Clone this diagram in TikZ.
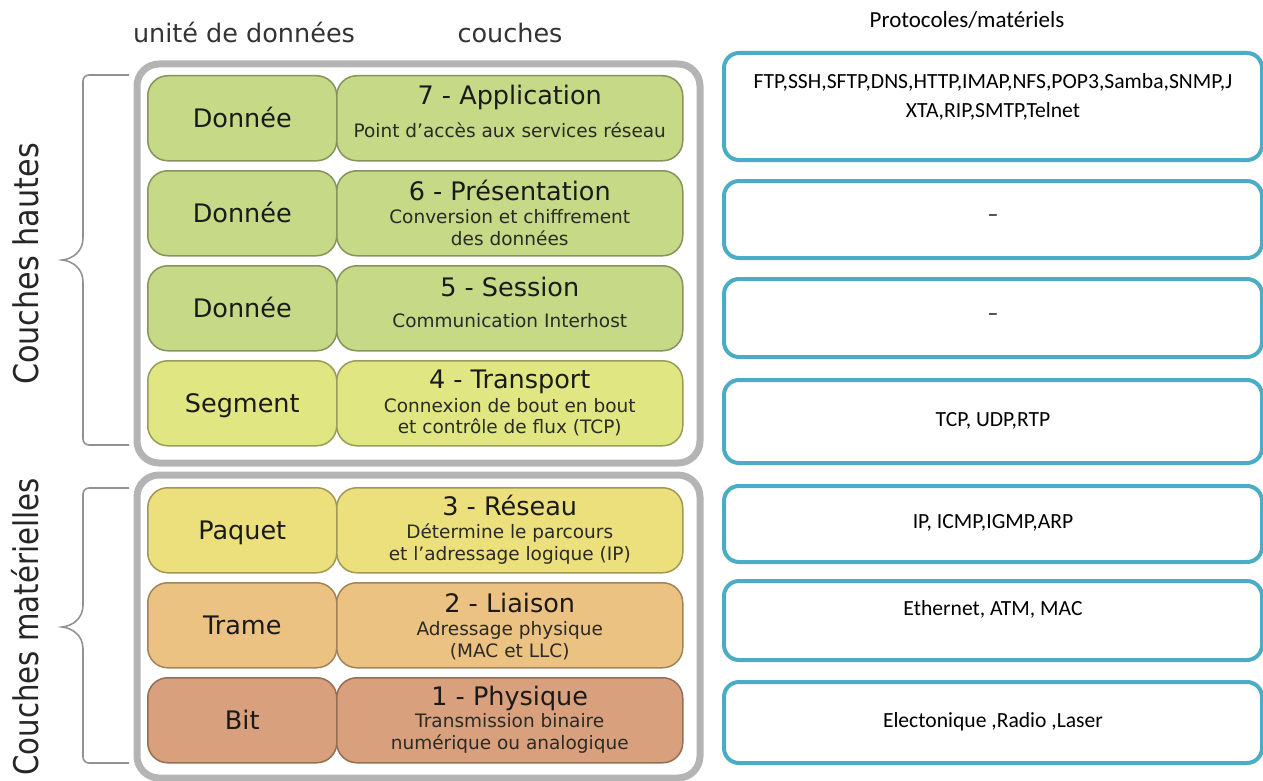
\documentclass[tikz,border=0pt]{standalone}
\usepackage{fontspec}
\setmainfont{DejaVu Sans}
\newfontfamily\calib{Carlito}

% layer colours
\definecolor{cApp}{HTML}{C5D986}
\definecolor{cTra}{HTML}{E0E682}
\definecolor{cRes}{HTML}{ECE07C}
\definecolor{cLia}{HTML}{ECC282}
\definecolor{cPhy}{HTML}{D9A07D}
\definecolor{frameGray}{HTML}{B4B4B4}
\definecolor{braceGray}{HTML}{929292}
\definecolor{protoBlue}{HTML}{4BACC6}
\definecolor{txtDark}{HTML}{1A1A1A}
\definecolor{txtSub}{HTML}{2A2A26}

\tikzset{
  frame/.style={draw=frameGray, line width=7pt, rounded corners=22pt,
    anchor=north west, inner sep=0pt},
  unitbox/.style={draw=#1!68!black, fill=#1, line width=1.5pt,
    rounded corners=20pt, minimum width=189pt, minimum height=85pt,
    anchor=north west, inner sep=0pt},
  layerbox/.style={draw=#1!68!black, fill=#1, line width=1.5pt,
    rounded corners=20pt, minimum width=346pt, minimum height=85pt,
    anchor=north west, inner sep=0pt},
  unitlabel/.style={anchor=base, inner sep=0pt, text=txtDark,
    font=\fontsize{25.5}{30}\selectfont},
  title/.style={anchor=base, inner sep=0pt, text=txtDark,
    font=\fontsize{25.5}{30}\selectfont},
  sub/.style={anchor=base, inner sep=0pt, text=txtSub,
    font=\fontsize{18.5}{22}\selectfont},
  header/.style={anchor=base, inner sep=0pt, text=black!80,
    font=\fontsize{25.5}{30}\selectfont},
  grouplabel/.style={anchor=base, rotate=90, inner sep=0pt, text=black!85,
    font=\fontsize{34}{40}\selectfont},
  brace/.style={draw=braceGray, line width=1.6pt},
  protobox/.style={draw=protoBlue, line width=4pt, rounded corners=15pt,
    minimum width=538pt, anchor=north west, inner sep=0pt},
  proto/.style={anchor=base, inner sep=0pt, text=black,
    font=\calib\fontsize{21.6}{25}\selectfont},
}

\begin{document}
\begin{tikzpicture}[x=1pt, y=-1pt]
\useasboundingbox (0,0) rectangle (1263,781);

% column headers
\node[header] (hUnit) at (244,43) {unité de données};
\node[header] (hCouches) at (510,43) {couches};
\node[proto, font=\calib\fontsize{23}{27}\selectfont] (hProto) at (967,28) {Protocoles/matériels};

% grey group frames
\node[frame, minimum width=563pt, minimum height=399pt] (haut) at (133.5,60.5) {};
\node[frame, minimum width=563pt, minimum height=303pt] (mat) at (133.5,471.5) {};

% upper layers
\node[unitbox=cApp] (u7) at (147,75) {};
\node[layerbox=cApp] (l7) at (336,75) {};
\node[unitbox=cApp] (u6) at (147,170) {};
\node[layerbox=cApp] (l6) at (336,170) {};
\node[unitbox=cApp] (u5) at (147,265) {};
\node[layerbox=cApp] (l5) at (336,265) {};
\node[unitbox=cTra] (u4) at (147,360) {};
\node[layerbox=cTra] (l4) at (336,360) {};

% lower layers
\node[unitbox=cRes] (u3) at (147,487) {};
\node[layerbox=cRes] (l3) at (336,487) {};
\node[unitbox=cLia] (u2) at (147,582) {};
\node[layerbox=cLia] (l2) at (336,582) {};
\node[unitbox=cPhy] (u1) at (147,677) {};
\node[layerbox=cPhy] (l1) at (336,677) {};

% data units
\node[unitlabel] at ([yshift=-9.5pt]u7.center) {Donnée};
\node[unitlabel] at ([yshift=-9.5pt]u6.center) {Donnée};
\node[unitlabel] at ([yshift=-9.5pt]u5.center) {Donnée};
\node[unitlabel] at ([yshift=-9.5pt]u4.center) {Segment};
\node[unitlabel] at ([yshift=-9.5pt]u3.center) {Paquet};
\node[unitlabel] at ([yshift=-9.5pt]u2.center) {Trame};
\node[unitlabel] at ([yshift=-9.5pt]u1.center) {Bit};

% layer names and roles
\node[title] at ([yshift=-30pt]l7.north) {7 - Application};
\node[sub]   at ([yshift=-63pt]l7.north) {Point d'accès aux services réseau};

\node[title] at ([yshift=-30pt]l6.north) {6 - Présentation};
\node[sub]   at ([yshift=-53pt]l6.north) {Conversion et chiffrement};
\node[sub]   at ([yshift=-75pt]l6.north) {des données};

\node[title] at ([yshift=-31pt]l5.north) {5 - Session};
\node[sub]   at ([yshift=-62pt]l5.north) {Communication Interhost};

\node[title] at ([yshift=-28pt]l4.north) {4 - Transport};
\node[sub]   at ([yshift=-52pt]l4.north) {Connexion de bout en bout};
\node[sub]   at ([yshift=-73pt]l4.north) {et contrôle de flux (TCP)};

\node[title] at ([yshift=-28pt]l3.north) {3 - Réseau};
\node[sub]   at ([yshift=-51pt]l3.north) {Détermine le parcours};
\node[sub]   at ([yshift=-73pt]l3.north) {et l'adressage logique (IP)};

\node[title] at ([yshift=-30pt]l2.north) {2 - Liaison};
\node[sub]   at ([yshift=-53pt]l2.north) {Adressage physique};
\node[sub]   at ([yshift=-75pt]l2.north) {(MAC et LLC)};

\node[title] at ([yshift=-28pt]l1.north) {1 - Physique};
\node[sub]   at ([yshift=-50pt]l1.north) {Transmission binaire};
\node[sub]   at ([yshift=-72pt]l1.north) {numérique ou analogique};

% group braces
\coordinate (bh1) at (129,75);
\coordinate (bh2) at (129,445);
\draw[brace] (bh1) [rounded corners=6pt] -- (83,75) -- (83,150) [sharp corners]
  -- (83,238) .. controls (83,252) and (72,259) .. (62,260)
  .. controls (72,261) and (83,268) .. (83,282) [rounded corners=6pt]
  -- (83,445) -- (bh2);
\coordinate (bm1) at (129,488);
\coordinate (bm2) at (129,763);
\draw[brace] (bm1) [rounded corners=6pt] -- (83,488) -- (83,560) [sharp corners]
  -- (83,605) .. controls (83,619) and (72,626) .. (62,627)
  .. controls (72,628) and (83,635) .. (83,649) [rounded corners=6pt]
  -- (83,763) -- (bm2);

% group names
\node[grouplabel] (gHaut) at (38,264) {\scalebox{0.89}[1]{Couches hautes}};
\node[grouplabel] (gMat) at (38,627) {\scalebox{0.86}[1]{Couches matérielles}};

% protocols per layer
\node[protobox, minimum height=107pt] (p7) at (722,51) {};
\node[protobox, minimum height=77pt]  (p6) at (722,179) {};
\node[protobox, minimum height=78pt]  (p5) at (722,277) {};
\node[protobox, minimum height=83pt]  (p4) at (722,378) {};
\node[protobox, minimum height=76pt]  (p3) at (722,484) {};
\node[protobox, minimum height=79pt]  (p2) at (722,579) {};
\node[protobox, minimum height=81pt]  (p1) at (722,680) {};

\node[proto] at (p7.north |- 0,89) {FTP,SSH,SFTP,DNS,HTTP,IMAP,NFS,POP3,Samba,SNMP,J};
\node[proto] at (p7.north |- 0,118) {XTA,RIP,SMTP,Telnet};
\node[proto] at (p6.north |- 0,221) {–};
\node[proto] at (p5.north |- 0,320) {–};
\node[proto] at (p4.north |- 0,426) {TCP, UDP,RTP};
\node[proto] at (p3.north |- 0,528) {IP, ICMP,IGMP,ARP};
\node[proto] at (p2.north |- 0,615) {Ethernet, ATM, MAC};
\node[proto] at (p1.north |- 0,727) {Electonique ,Radio ,Laser};
\end{tikzpicture}
\end{document}
